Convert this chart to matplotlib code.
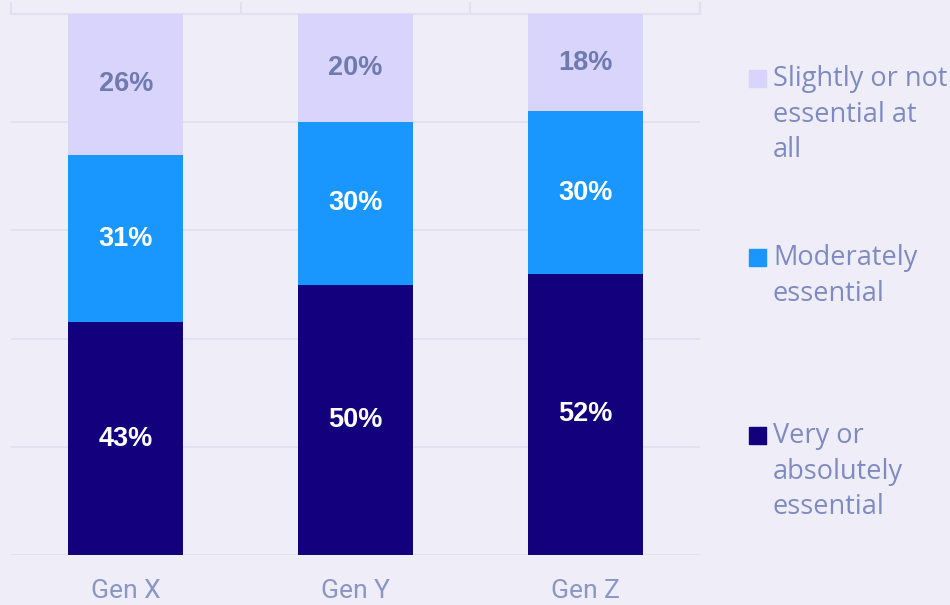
import matplotlib
matplotlib.use("Agg")
import matplotlib.pyplot as plt
from matplotlib.patches import Rectangle
import numpy as np

categories = ["Gen X", "Gen Y", "Gen Z"]
very = [43, 50, 52]
moderately = [31, 30, 30]
slightly = [26, 20, 18]
series_names = ["Very or\nabsolutely\nessential", "Moderately\nessential", "Slightly or not\nessential at\nall"]
series_colors = ["#13007C", "#1A96FF", "#D9D4FC"]
label_colors = ["white", "white", "#6F7BAF"]
y_ticks = [0, 20, 40, 60, 80, 100]

BG = "#EFEEF8"
fig = plt.figure(figsize=(9.5, 6.05), dpi=100, facecolor=BG)
ax = fig.add_axes([11/950, 1-555/605, (700-11)/950, (555-14)/605])
ax.set_facecolor(BG)

x = np.arange(len(categories))
bottoms = np.zeros(len(categories))
for vals, col, lc in zip([very, moderately, slightly], series_colors, label_colors):
    ax.bar(x, vals, width=0.5, bottom=bottoms, color=col, zorder=3)
    for xi, b, v in zip(x, bottoms, vals):
        ax.text(xi, b + v/2, f"{v}%", ha="center", va="center", color=lc,
                fontsize=19.5, fontweight="bold", family="Liberation Sans", zorder=4)
    bottoms += np.array(vals)

ax.set_xlim(-0.5, 2.5)
ax.set_ylim(0, 100)
ax.set_yticks(y_ticks)
ax.yaxis.grid(True, color="#E1DFF0", linewidth=1.2, zorder=0)
ax.tick_params(axis="y", length=0, labelleft=False)
for s in ["left", "right", "bottom"]:
    ax.spines[s].set_visible(False)
ax.spines["top"].set_color("#E1DFF0")
ax.spines["top"].set_linewidth(1.5)

ax.set_xticks(x)
ax.set_xticklabels(categories, fontsize=19, color="#8A96C4", family="Roboto")
ax.tick_params(axis="x", length=0, pad=17)
ax.set_xticks([-0.5, 0.5, 1.5, 2.5], minor=True)
ax.tick_params(axis="x", which="minor", top=True, bottom=False, direction="out",
               length=9, color="#E1DFF0", width=1.5)

# legend (top entry first)
tops = [65, 244, 422]
for name, col, t in zip(series_names[::-1], series_colors[::-1], tops):
    fig.text(773/950, 1 - t/605, name, ha="left", va="top", fontsize=19.5,
             color="#7F8BC0", family="Open Sans", linespacing=1.36)
    fig.patches.append(Rectangle((749/950, 1 - (t + 22)/605), 17/950, 17/605,
                                 transform=fig.transFigure, color=col))

fig.savefig("out.png", dpi=100, facecolor=BG)
